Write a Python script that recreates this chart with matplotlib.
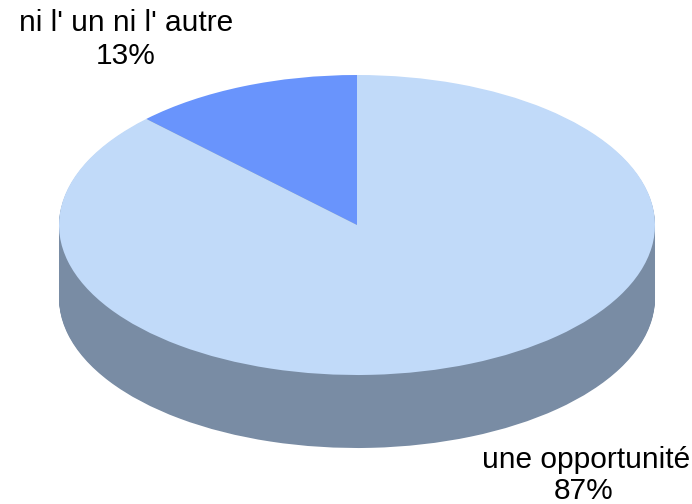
import matplotlib
matplotlib.use("Agg")
import matplotlib.pyplot as plt

categories = ["ni l' un ni l' autre", "une opportunité"]
values = [12.5, 87.5]
percent_labels = ["13%", "87%"]
top_colors = ["#6994FC", "#C1DAF9"]
side_color = "#798CA4"

W, H = 692, 504
cx, cy, rx, ry, depth = 357, 225, 298, 150, 73

plt.rcParams['font.family'] = ['Liberation Sans', 'DejaVu Sans']
fig = plt.figure(figsize=(W / 100, H / 100), dpi=100, facecolor="white")
ax = fig.add_axes([0, 0, 1, 1])

d = depth / ry
n = 80
for i in range(n, 0, -1):
    ax.pie(values, colors=[side_color, side_color], startangle=90,
           counterclock=True, radius=1, center=(0, -d * i / n),
           wedgeprops=dict(linewidth=0), normalize=True)
ax.pie(values, colors=top_colors, startangle=90, counterclock=True, radius=1,
       center=(0, 0), wedgeprops=dict(linewidth=0), normalize=True)

ax.set_aspect("auto")
ax.set_xlim(-cx / rx, (W - cx) / rx)
ax.set_ylim((cy - H) / ry, cy / ry)
ax.axis("off")

def px(x, y):
    return (x - cx) / rx, (cy - y) / ry

fs = 21.5
ax.text(*px(126, 23), categories[0], ha="center", va="center", fontsize=fs, color="black")
ax.text(*px(126, 56), percent_labels[0], ha="center", va="center", fontsize=fs, color="black")
ax.text(*px(586, 460), categories[1], ha="center", va="center", fontsize=fs, color="black")
ax.text(*px(584, 491), percent_labels[1], ha="center", va="center", fontsize=fs, color="black")

fig.savefig("out.png", dpi=100, facecolor="white")
